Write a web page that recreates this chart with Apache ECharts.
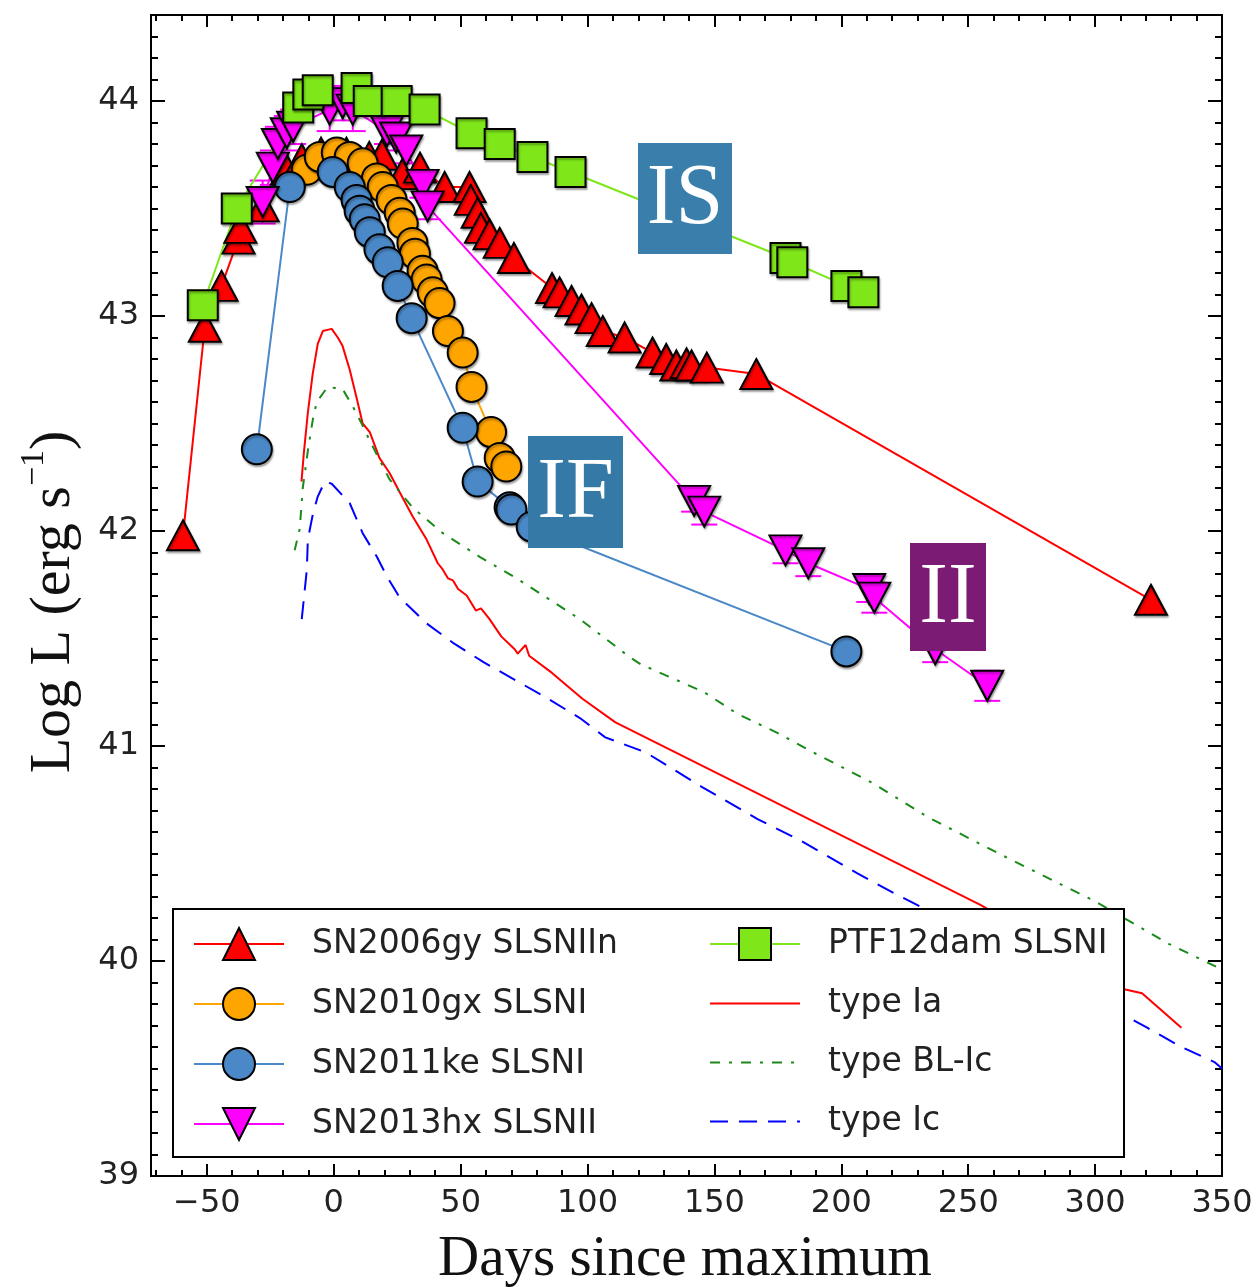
<!DOCTYPE html>
<html>
<head>
<meta charset="utf-8">
<script src="https://cdn.jsdelivr.net/npm/echarts@6/dist/echarts.min.js"></script>
<style>
  html, body { margin: 0; padding: 0; background: #fff; }
  #chart { width: 1259px; height: 1287px; }
</style>
</head>
<body>
<div id="chart"></div>
<script>
// superluminous supernovae (days since max, log L)
const gyDays = [-59.4, -50.8, -44.2, -37.5, -36.8, -28, -18.5, -12.6, -5, 5, 14, 19, 27, 34, 43.7, 53.5, 54, 56.7, 58, 61.4, 65.4, 71, 86, 89, 93.7, 97.6, 101.6, 106, 114.6, 125.6, 131, 135, 139, 141, 147, 166.5, 322]
const gyLum = [41.98, 42.95, 43.14, 43.36, 43.41, 43.51, 43.68, 43.73, 43.76, 43.76, 43.74, 43.75, 43.66, 43.69, 43.60, 43.60, 43.54, 43.48, 43.41, 43.38, 43.34, 43.27, 43.13, 43.11, 43.07, 43.03, 42.99, 42.93, 42.90, 42.83, 42.80, 42.77, 42.78, 42.77, 42.76, 42.73, 41.68]

const gxDays = [-10.6, -5.5, 1.2, 6.3, 11.4, 17, 19.3, 22.8, 26, 27.2, 31, 32, 35, 36.6, 39, 41.7, 45, 50.8, 54.3, 62, 65.4, 68]
const gxLum = [43.68, 43.74, 43.76, 43.74, 43.71, 43.64, 43.60, 43.54, 43.48, 43.43, 43.34, 43.29, 43.21, 43.17, 43.11, 43.06, 42.93, 42.83, 42.67, 42.46, 42.34, 42.30]

const keDays = [-30.3, -17.3, -0.4, 6.3, 9, 10.2, 12.2, 14.2, 18, 21.3, 25.2, 30.7, 50.8, 56.7, 69.3, 70, 78, 202]
const keLum = [42.38, 43.60, 43.67, 43.60, 43.54, 43.49, 43.45, 43.39, 43.31, 43.25, 43.14, 42.99, 42.48, 42.23, 42.11, 42.10, 42.02, 41.44]

const hxDays = [-28, -24, -22, -18.5, -16, -1.6, 3.5, 7.5, 21, 24.6, 28.6, 35, 37, 142, 146, 178, 187, 211, 213, 237, 257.5]
const hxLum = [43.53, 43.69, 43.80, 43.85, 43.88, 43.96, 43.99, 43.96, 43.86, 43.83, 43.77, 43.61, 43.51, 42.14, 42.09, 41.91, 41.85, 41.73, 41.69, 41.45, 41.28]
const hxErr = [0.1, 0.08, 0.08, 0.08, 0.08, 0.1, 0.08, 0.1, 0.06, 0.06, 0.06, 0.06, 0.06, 0.05, 0.06, 0.06, 0.06, 0.06, 0.07, 0.06, 0.07]

const damDays = [-51.6, -38.2, -14, -10, -6.3, 9, 13.8, 24.8, 35.8, 54.3, 65.4, 78.3, 93.3, 178, 180.7, 202, 208.7]
const damLum = [43.05, 43.50, 43.97, 44.03, 44.05, 44.06, 44.00, 44.00, 43.96, 43.85, 43.80, 43.74, 43.67, 43.27, 43.25, 43.14, 43.11]

// template light curves
const iaDays = [-12.7, -11.8, -10.2, -8.3, -6.3, -4.3, -0.8, 1.6, 3.5, 6.3, 9, 11.4, 14.2, 18, 22, 26, 31, 36.6, 41, 43, 45, 47, 49, 52.4, 56, 58, 61.4, 66, 71.3, 72.5, 75.6, 77, 86, 98, 111, 255, 311, 318.5, 334]
const iaLum = [42.23, 42.36, 42.55, 42.73, 42.87, 42.93, 42.94, 42.90, 42.86, 42.75, 42.62, 42.50, 42.46, 42.34, 42.27, 42.18, 42.07, 41.96, 41.85, 41.82, 41.78, 41.77, 41.73, 41.70, 41.63, 41.64, 41.59, 41.51, 41.45, 41.43, 41.47, 41.42, 41.34, 41.22, 41.11, 40.26, 39.87, 39.85, 39.69]

const blDays = [-15.4, -13.4, -12.2, -10, -8.2, -6.7, -2.4, 3.5, 7.5, 11, 14.2, 22, 31, 43, 57.5, 72, 97, 117, 121, 146, 159, 175, 189, 212, 234, 262, 299.6, 329, 350]
const blLum = [41.91, 42.01, 42.20, 42.39, 42.52, 42.60, 42.67, 42.66, 42.58, 42.50, 42.42, 42.24, 42.11, 41.99, 41.88, 41.78, 41.59, 41.41, 41.38, 41.25, 41.15, 41.06, 40.97, 40.83, 40.67, 40.50, 40.28, 40.08, 39.96]

const icDays = [-12.6, -10.6, -10.2, -8.2, -6.3, -3.5, -0.8, 6.3, 11.4, 17, 20.9, 26, 36.6, 47, 59, 71, 83, 97, 107, 123, 145, 167, 184, 206, 220, 230, 320.5, 334, 347, 350]
const icLum = [41.59, 41.82, 41.96, 42.08, 42.16, 42.23, 42.22, 42.13, 41.99, 41.88, 41.79, 41.69, 41.57, 41.48, 41.39, 41.31, 41.23, 41.13, 41.04, 40.97, 40.81, 40.66, 40.56, 40.41, 40.32, 40.26, 39.69, 39.60, 39.53, 39.50]

const xMajor = [-50, 0, 50, 100, 150, 200, 250, 300, 350]
const yMajor = [39, 40, 41, 42, 43, 44]
const xMinor = []
for (let v = -70; v <= 350; v += 10) xMinor.push(v)
const yMinor = []
for (let k = 390; k <= 444; k++) yMinor.push(k / 10)

const pts = (xs, ys) => xs.map((x, i) => [x, ys[i]])
const tickFont = { fontFamily: 'DejaVu Sans', fontSize: 32, color: '#222' }
const serif = 'Liberation Serif'

function snSeries(name, xs, ys, color, symbol, size, rotate) {
  return {
    name: name,
    type: 'line',
    data: pts(xs, ys),
    symbol: symbol,
    symbolSize: size,
    symbolRotate: rotate || 0,
    lineStyle: { color: color, width: 2 },
    itemStyle: {
      color: color, borderColor: '#000', borderWidth: 2,
      shadowColor: 'rgba(0,0,0,0.3)', shadowBlur: 2, shadowOffsetX: 1, shadowOffsetY: 2
    },
    emphasis: { disabled: true }
  }
}

function tmplSeries(name, xs, ys, color, type) {
  return {
    name: name,
    type: 'line',
    data: pts(xs, ys),
    symbol: 'none',
    lineStyle: { color: color, width: 2, type: type },
    itemStyle: { color: color },
    emphasis: { disabled: true }
  }
}

function axis(pos, min, max, ticks, len, labels) {
  return {
    type: 'value', position: pos, min: min, max: max,
    splitLine: { show: false },
    axisLine: { show: false, onZero: false },
    axisTick: { inside: true, length: len, customValues: ticks, lineStyle: { color: '#000', width: 2 } },
    axisLabel: labels ? Object.assign({ customValues: ticks, margin: 12,
      formatter: v => v < 0 ? '\u2212' + (-v) : String(v) }, tickFont) : { show: false }
  }
}

const errBars = {
  type: 'custom',
  name: 'hxErr',
  data: hxDays.map((d, i) => [d, hxLum[i], hxErr[i]]),
  encode: { x: 0, y: 1 },
  renderItem: (params, api) => {
    const x = api.value(0), y = api.value(1), e = api.value(2)
    const lo = api.coord([x, y - e]), hi = api.coord([x, y + e])
    const st = { stroke: '#ff00ff', lineWidth: 2 }
    return {
      type: 'group',
      children: [
        { type: 'line', shape: { x1: lo[0], y1: lo[1], x2: hi[0], y2: hi[1] }, style: st },
        { type: 'line', shape: { x1: lo[0] - 13, y1: lo[1], x2: lo[0] + 13, y2: lo[1] }, style: st },
        { type: 'line', shape: { x1: hi[0] - 13, y1: hi[1], x2: hi[0] + 13, y2: hi[1] }, style: st }
      ]
    }
  }
}

const legendBase = {
  orient: 'vertical', top: 922, itemWidth: 90, itemHeight: 40, itemGap: 26,
  selectedMode: false, z: 10,
  textStyle: { fontFamily: 'DejaVu Sans', fontSize: 33, color: '#222', padding: [0, 0, 0, 23] }
}

function label(x, y, w, h, fill, text) {
  return [
    { type: 'rect', z: 20, shape: { x: x, y: y, width: w, height: h }, style: { fill: fill } },
    { type: 'text', z: 21, x: x + w / 2, y: y + h / 2 + 2,
      style: { text: text, fill: '#fff', font: '86px "' + serif + '"', align: 'center', verticalAlign: 'middle' } }
  ]
}

const chart = echarts.init(document.getElementById('chart'))
chart.setOption({
  animation: false,
  backgroundColor: '#fff',
  grid: { left: 151, right: 37, top: 15, bottom: 111, show: true, borderColor: '#000', borderWidth: 2,
    containLabel: false, outerBoundsMode: 'none' },
  xAxis: [
    axis('bottom', -72, 350, xMajor, 12, true),
    axis('bottom', -72, 350, xMinor, 6, false),
    axis('top', -72, 350, xMajor, 12, false),
    axis('top', -72, 350, xMinor, 6, false)
  ],
  yAxis: [
    axis('left', 39, 44.4, yMajor, 14, true),
    axis('left', 39, 44.4, yMinor, 7, false),
    axis('right', 39, 44.4, yMajor, 14, false),
    axis('right', 39, 44.4, yMinor, 7, false)
  ],
  legend: [
    Object.assign({ left: 188, data: ['SN2006gy SLSNIIn', 'SN2010gx SLSNI', 'SN2011ke SLSNI', 'SN2013hx SLSNII'] }, legendBase),
    Object.assign({ left: 704, data: [
      { name: 'PTF12dam SLSNI' },
      { name: 'type Ia', itemStyle: { opacity: 0 } },
      { name: 'type BL-Ic', itemStyle: { opacity: 0 } },
      { name: 'type Ic', itemStyle: { opacity: 0 } }
    ] }, legendBase)
  ],
  series: [
    tmplSeries('type Ia', iaDays, iaLum, '#ff0000', 'solid'),
    tmplSeries('type BL-Ic', blDays, blLum, '#1a8a1a', [10, 9, 3, 9]),
    tmplSeries('type Ic', icDays, icLum, '#0000ff', [18, 11]),
    snSeries('SN2006gy SLSNIIn', gyDays, gyLum, '#ff0000', 'triangle', [32, 30]),
    snSeries('SN2010gx SLSNI', gxDays, gxLum, '#ffa500', 'circle', 30),
    snSeries('SN2011ke SLSNI', keDays, keLum, '#4a88c7', 'circle', 30),
    errBars,
    snSeries('SN2013hx SLSNII', hxDays, hxLum, '#ff00ff', 'triangle', [32, 30], 180),
    snSeries('PTF12dam SLSNI', damDays, damLum, '#7ee619', 'rect', 30)
  ],
  graphic: [
    { type: 'rect', z: 5, shape: { x: 173, y: 909, width: 951, height: 248 },
      style: { fill: '#fff', stroke: '#000', lineWidth: 2 } },
    ...label(638, 143, 94, 111, '#3a7eab', 'IS'),
    ...label(528, 436, 95, 112, '#3579a6', 'IF'),
    ...label(910, 543, 76, 108, '#7b1b74', 'II'),
    { type: 'text', x: 685, y: 1260,
      style: { text: 'Days since maximum', fill: '#111', font: '57px "' + serif + '"', align: 'center', verticalAlign: 'middle' } },
    { type: 'text', x: 50, y: 602, rotation: Math.PI / 2,
      style: {
        text: '{a|Log L (erg s}{b|\u22121}{a|)}', align: 'center', verticalAlign: 'middle',
        rich: {
          a: { fontFamily: serif, fontSize: 58, fill: '#111', lineHeight: 66, verticalAlign: 'bottom' },
          b: { fontFamily: serif, fontSize: 34, fill: '#111', lineHeight: 32, verticalAlign: 'top' }
        }
      } }
  ]
})
</script>
</body>
</html>
